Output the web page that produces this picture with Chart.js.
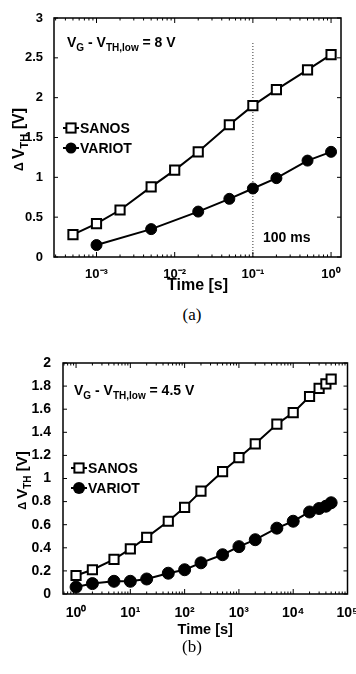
<!DOCTYPE html>
<html>
<head>
<meta charset="utf-8">
<script src="https://cdn.jsdelivr.net/npm/chart.js@4"></script>
<style>
  html, body { margin: 0; padding: 0; background: #fff; }
  body { width: 356px; height: 674px; position: relative; overflow: hidden; }
  canvas { position: absolute; left: 0; }
  .cap { position: absolute; width: 60px; text-align: center; font-family: 'Liberation Serif', serif; font-size: 17px; color: #000; }
</style>
</head>
<body>
<canvas id="chartA" width="356" height="300" style="top:0"></canvas>
<canvas id="chartB" width="356" height="310" style="top:330px"></canvas>
<div class="cap" style="left:162px; top:305px">(a)</div>
<div class="cap" style="left:162px; top:637px">(b)</div>
<script>
// panel (a): V_G - V_TH,low = 8 V
const timeSanosA = [5e-4, 1e-3, 2e-3, 5e-3, 1e-2, 2e-2, 5e-2, 0.1, 0.2, 0.5, 1];
const sanosA = [0.28, 0.42, 0.59, 0.88, 1.09, 1.32, 1.66, 1.90, 2.10, 2.35, 2.54];
const timeVariotA = [1e-3, 5e-3, 2e-2, 5e-2, 0.1, 0.2, 0.5, 1];
const variotA = [0.15, 0.35, 0.57, 0.73, 0.86, 0.99, 1.21, 1.32];
const markTimeA = [0.1, 0.1];      // 100 ms line
const markLevelA = [0, 2.7];
const decadeTicksA = [1e-3, 1e-2, 1e-1, 1];
const decadeLabelsA = ['10⁻³', '10⁻²', '10⁻¹', '10⁰'];

// panel (b): V_G - V_TH,low = 4.5 V
const timeB = [1, 2, 5, 10, 20, 50, 100, 200, 500, 1e3, 2e3, 5e3, 1e4, 2e4, 3e4, 4e4, 5e4];
const sanosB = [0.16, 0.21, 0.30, 0.39, 0.49, 0.63, 0.75, 0.89, 1.06, 1.18, 1.30, 1.47, 1.57, 1.71, 1.78, 1.82, 1.86];
const variotB = [0.06, 0.09, 0.11, 0.11, 0.13, 0.18, 0.21, 0.27, 0.34, 0.41, 0.47, 0.57, 0.63, 0.71, 0.74, 0.76, 0.79];
const decadeTicksB = [1, 10, 100, 1e3, 1e4, 1e5];
const decadeLabelsB = ['10⁰', '10¹', '10²', '10³', '10⁴', '10⁵'];

const pts = (xs, ys) => xs.map((x, i) => ({ x: x, y: ys[i] }));

function drawRuns(ctx, x, y, runs, family) {
    let cx = x;
    runs.forEach(r => {
        ctx.font = 'bold ' + r.s + 'px ' + family;
        ctx.fillText(r.t, cx, y + (r.dy || 0));
        cx += ctx.measureText(r.t).width;
    });
    return cx - x;
}
function runsWidth(ctx, runs, family) {
    let w = 0;
    runs.forEach(r => { ctx.font = 'bold ' + r.s + 'px ' + family; w += ctx.measureText(r.t).width; });
    return w;
}

// box + inward tick marks like matlab
const framePlugin = {
    id: 'frame',
    afterDraw(chart) {
        const { ctx, chartArea: a, scales: { x, y } } = chart;
        ctx.save();
        ctx.strokeStyle = '#000';
        ctx.lineWidth = 1.5;
        ctx.strokeRect(a.left, a.top, a.right - a.left, a.bottom - a.top);
        ctx.lineWidth = 1;
        ctx.beginPath();
        y.ticks.forEach(t => {
            const py = y.getPixelForValue(t.value);
            ctx.moveTo(a.left, py); ctx.lineTo(a.left + 4, py);
            ctx.moveTo(a.right, py); ctx.lineTo(a.right - 4, py);
        });
        const lo = Math.floor(Math.log10(x.min)), hi = Math.ceil(Math.log10(x.max));
        for (let e = lo; e <= hi; e++) {
            for (let k = 1; k < 10; k++) {
                const v = k * Math.pow(10, e);
                if (v < x.min || v > x.max) continue;
                const px = x.getPixelForValue(v);
                const len = k === 1 ? 5 : 2.5;
                ctx.moveTo(px, a.bottom); ctx.lineTo(px, a.bottom - len);
                ctx.moveTo(px, a.top); ctx.lineTo(px, a.top + len);
            }
        }
        ctx.stroke();
        ctx.restore();
    }
};

// y title with subscript, condition text, legend, notes
const textPlugin = {
    id: 'figText',
    afterDraw(chart, args, o) {
        const { ctx, chartArea: a } = chart;
        const fam = o.family;
        ctx.save();
        ctx.fillStyle = '#000';
        ctx.textAlign = 'left';
        ctx.textBaseline = 'middle';

        // y axis title, rotated
        const yRuns = [{ t: 'Δ ', s: o.ySize - 4 }, { t: 'V', s: o.ySize }, { t: 'TH', s: o.ySize - 5, dy: 5 }, { t: ' [V]', s: o.ySize }];
        const w = runsWidth(ctx, yRuns, fam);
        ctx.save();
        ctx.translate(a.left - o.yTitleOff, (a.top + a.bottom) / 2 + 2);
        ctx.rotate(-Math.PI / 2);
        drawRuns(ctx, -w / 2, 0, yRuns, fam);
        ctx.restore();

        // condition
        ctx.textBaseline = 'alphabetic';
        drawRuns(ctx, a.left + o.condX, a.top + o.condY, [
            { t: 'V', s: 14 }, { t: 'G', s: 10, dy: 4 }, { t: ' - V', s: 14 },
            { t: 'TH,low', s: 10, dy: 4 }, { t: ' = ' + o.condValue, s: 14 }
        ], o.condFamily || fam);

        // legend
        ctx.textBaseline = 'middle';
        const items = chart.data.datasets.filter(d => d.inLegend);
        items.forEach((d, i) => {
            const yy = a.top + o.legTop + i * o.legGap;
            const x0 = a.left + o.legX0, x1 = a.left + o.legX1, xm = (x0 + x1) / 2;
            ctx.strokeStyle = '#000';
            ctx.lineWidth = 2;
            ctx.beginPath(); ctx.moveTo(x0, yy); ctx.lineTo(x1, yy); ctx.stroke();
            if (d.pointStyle === 'rect') {
                const h = Math.SQRT1_2 * d.pointRadius;
                ctx.fillStyle = '#fff';
                ctx.fillRect(xm - h, yy - h, 2 * h, 2 * h);
                ctx.strokeRect(xm - h, yy - h, 2 * h, 2 * h);
            } else {
                ctx.fillStyle = '#000';
                ctx.beginPath(); ctx.arc(xm, yy, d.pointRadius, 0, Math.PI * 2); ctx.fill();
            }
            ctx.fillStyle = '#000';
            ctx.font = 'bold 14px ' + fam;
            ctx.fillText(d.label, x1 + 1, yy + 1);
        });

        if (o.note) {
            ctx.font = 'bold 14px ' + fam;
            ctx.fillText(o.note, a.left + o.noteX, a.bottom - o.noteY);
        }
        ctx.restore();
    }
};

function makeChart(id, p) {
    const datasets = [
        {
            label: 'SANOS', inLegend: true, data: p.sanos,
            borderColor: '#000', borderWidth: 2, pointStyle: 'rect', pointRadius: p.rectR,
            pointBackgroundColor: '#fff', pointBorderColor: '#000', pointBorderWidth: 2
        },
        {
            label: 'VARIOT', inLegend: true, data: p.variot,
            borderColor: '#000', borderWidth: 2, pointStyle: 'circle', pointRadius: p.circR,
            pointBackgroundColor: '#000', pointBorderColor: '#000', pointBorderWidth: 1
        }
    ];
    if (p.mark) {
        datasets.push({
            label: '100 ms', inLegend: false, data: p.mark,
            borderColor: '#333', borderWidth: 1, borderDash: [1, 2], pointRadius: 0
        });
    }
    return new Chart(document.getElementById(id), {
        type: 'line',
        data: { datasets: datasets },
        plugins: [framePlugin, textPlugin],
        options: {
            responsive: false,
            animation: false,
            devicePixelRatio: 1,
            layout: { padding: { left: 0, right: p.padRight, top: p.padTop, bottom: 0 } },
            plugins: {
                legend: { display: false },
                tooltip: { enabled: false },
                figText: p.text
            },
            scales: {
                x: {
                    type: 'logarithmic', min: p.xMin, max: p.xMax,
                    grid: { display: false }, border: { display: false },
                    afterBuildTicks: s => { s.ticks = p.decades.map(v => ({ value: v })); },
                    afterFit: s => { s.height = p.xHeight; s.paddingLeft = 0; s.paddingRight = 0; },
                    ticks: {
                        color: '#000', padding: p.xTickPad, maxRotation: 0, autoSkip: false,
                        font: { family: p.family, size: p.tickSize, weight: 'bold' },
                        callback: v => { const i = p.decades.indexOf(v); return i >= 0 ? p.decadeLabels[i] : ''; }
                    },
                    title: {
                        display: true, text: 'Time [s]', color: '#000',
                        font: { family: p.family, size: p.xTitleSize, weight: 'bold' },
                        padding: { top: 0, bottom: p.xTitlePad }
                    }
                },
                y: {
                    min: 0, max: p.yMax,
                    grid: { display: false }, border: { display: false },
                    afterFit: s => { s.width = p.yWidth; },
                    ticks: {
                        color: '#000', stepSize: p.yStep, padding: p.yTickPad,
                        font: { family: p.family, size: p.tickSize, weight: 'bold' },
                        callback: v => String(Number(v.toFixed(2)))
                    }
                }
            }
        }
    });
}

const famA = "'Liberation Sans', Arial, sans-serif";
const famB = "'Liberation Sans Narrow', 'Liberation Sans', Arial, sans-serif";

makeChart('chartA', {
    sanos: pts(timeSanosA, sanosA), variot: pts(timeVariotA, variotA), mark: pts(markTimeA, markLevelA),
    rectR: 6.5, circR: 5.5,
    xMin: 2.86e-4, xMax: 1.34, decades: decadeTicksA, decadeLabels: decadeLabelsA,
    yMax: 3, yStep: 0.5,
    family: famA, tickSize: 13, xTitleSize: 16,
    padTop: 18, padRight: 15, xHeight: 43, yWidth: 54,
    xTickPad: 2, xTitlePad: 5, yTickPad: 3,
    text: {
        family: famA, ySize: 16, yTitleOff: 34,
        condX: 13, condY: 29, condValue: '8 V',
        legTop: 110, legGap: 20, legX0: 9, legX1: 25,
        note: '100 ms', noteX: 209, noteY: 19
    }
});

makeChart('chartB', {
    sanos: pts(timeB, sanosB), variot: pts(timeB, variotB), mark: null,
    rectR: 6.5, circR: 6,
    xMin: 0.575, xMax: 1e5, decades: decadeTicksB, decadeLabels: decadeLabelsB,
    yMax: 2, yStep: 0.2,
    family: famB, tickSize: 14, xTitleSize: 14.5,
    padTop: 33, padRight: 6, xHeight: 46, yWidth: 63,
    xTickPad: 3, xTitlePad: 1, yTickPad: 4,
    text: {
        family: famB, ySize: 15, yTitleOff: 40,
        condX: 11, condY: 32, condValue: '4.5 V',
        legTop: 105, legGap: 20, legX0: 8, legX1: 24,
        note: null
    }
});
</script>
</body>
</html>
